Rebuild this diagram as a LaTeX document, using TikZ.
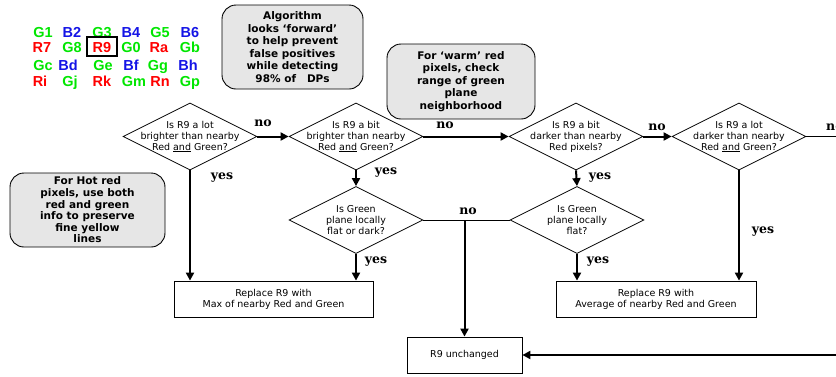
\documentclass[tikz,border=0pt]{standalone}
\usepackage{fontspec}
\setmainfont{DejaVu Sans}
\newfontfamily\gridfont{Liberation Sans}
\newfontfamily\lblfont{DejaVu Serif}
\usetikzlibrary{shapes.geometric,arrows.meta}
\definecolor{gG}{RGB}{0,230,0}
\definecolor{gB}{RGB}{20,20,230}
\definecolor{gR}{RGB}{255,0,0}
\definecolor{callfill}{RGB}{230,230,230}
\begin{document}
\begin{tikzpicture}[x=1pt,y=-1pt,
  grid/.style={font=\gridfont\bfseries\fontsize{14.5}{16}\selectfont, inner sep=0pt, anchor=base},
  callout/.style={draw, line width=0.9pt, fill=callfill, rounded corners=14pt, align=center, inner sep=0pt,
    font=\bfseries\fontsize{10.5}{12.6}\selectfont},
  dia/.style={draw, line width=0.8pt, shape=diamond, inner sep=0pt, minimum width=134pt, minimum height=67pt, shape aspect=2},
  dtext/.style={align=center, inner sep=0pt, font=\fontsize{9.5}{11}\selectfont},
  rbox/.style={draw, line width=0.8pt, align=center, inner sep=0pt, font=\fontsize{9.5}{11}\selectfont},
  lbl/.style={font=\lblfont\bfseries\fontsize{12.5}{14}\selectfont, inner sep=0pt},
  thk/.style={line width=2pt, -{Triangle[length=8pt,width=8pt]}},
  thn/.style={line width=0.8pt}
]
\useasboundingbox (0,0) rectangle (836,376);
\clip (0,0) rectangle (836,376);
% colour grid
\node[grid,text=gG] (g1) at (43,37) {G1};
\node[grid,text=gB] (b2) at (72,37) {B2};
\node[grid,text=gG] (g3) at (102,37) {G3};
\node[grid,text=gB] (b4) at (131,37) {B4};
\node[grid,text=gG] (g5) at (160,37) {G5};
\node[grid,text=gB] (b6) at (190,37) {B6};
\node[grid,text=gR] (r7) at (42,52.5) {R7};
\node[grid,text=gG] (g8) at (72,52.5) {G8};
\node[grid,text=gR] (r9) at (102,52.5) {R9};
\draw[line width=1.4pt] (87,37) rectangle (117,56);
\node[grid,text=gG] (g0) at (131,52.5) {G0};
\node[grid,text=gR] (ra) at (159,52.5) {Ra};
\node[grid,text=gG] (gb) at (190,52.5) {Gb};
\node[grid,text=gG] (gc) at (43,70) {Gc};
\node[grid,text=gB] (bd) at (68,70) {Bd};
\node[grid,text=gG] (ge) at (103,70) {Ge};
\node[grid,text=gB] (bf) at (131,70) {Bf};
\node[grid,text=gG] (gg) at (158,70) {Gg};
\node[grid,text=gB] (bh) at (188,70) {Bh};
\node[grid,text=gR] (ri) at (40,86) {Ri};
\node[grid,text=gG] (gj) at (70,86) {Gj};
\node[grid,text=gR] (rk) at (102,86) {Rk};
\node[grid,text=gG] (gm) at (134,86) {Gm};
\node[grid,text=gR] (rn) at (160,86) {Rn};
\node[grid,text=gG] (gp) at (190,86) {Gp};
% callouts
\node[callout,minimum width=141pt,minimum height=84pt] (c1) at (292.5,47) {Algorithm\\looks `forward'\\to help prevent\\false positives\\while detecting\\98\% of \ \ DPs};
\node[callout,minimum width=148pt,minimum height=75pt] (c2) at (461,81.5) {For `warm' red\\pixels, check\\range of green\\plane\\neighborhood};
\node[callout,minimum width=155pt,minimum height=74pt,font=\bfseries\fontsize{10.5}{11.6}\selectfont] (c3) at (87.5,210) {For Hot red\\pixels, use both\\red and green\\info to preserve\\fine yellow\\lines};
% diamonds
\node[dia] (d1) at (190,136.5) {};
\node[dtext] at (d1) {Is R9 a lot\\brighter than nearby\\Red \underline{and} Green?};
\node[dia] (d2) at (356,136.5) {};
\node[dtext] at (d2) {Is R9 a bit\\brighter than nearby\\Red \underline{and} Green?};
\node[dia] (d3) at (576,136.5) {};
\node[dtext] at (d3) {Is R9 a bit\\darker than nearby\\Red pixels?};
\node[dia] (d4) at (739,136.5) {};
\node[dtext] at (d4) {Is R9 a lot\\darker than nearby\\Red \underline{and} Green?};
\node[dia] (d5) at (356,220) {};
\node[dtext] at (d5) {Is Green\\plane locally\\flat or dark?};
\node[dia] (d6) at (577,220) {};
\node[dtext] at (d6) {Is Green\\plane locally\\flat?};
% boxes
\node[rbox,minimum width=199pt,minimum height=36pt] (b1) at (273.5,299) {Replace R9 with\\Max of nearby Red and Green};
\node[rbox,minimum width=200pt,minimum height=36pt] (b2box) at (656,299) {Replace R9 with\\Average of nearby Red and Green};
\node[rbox,minimum width=115pt,minimum height=36pt] (b3) at (464.5,355) {R9 unchanged};
% connectors
\coordinate (re) at (840,136.5);
\coordinate (rb) at (840,355);
\coordinate (j) at (464.5,220);
\draw[thk] (d1.east) -- (d2.west);
\draw[thk] (d2.east) -- (d3.west);
\draw[thk] (d3.east) -- (d4.west);
\draw[thn] (d4.east) -- (re);
\draw[thk] (d1.south) -- (d1.south |- b1.north);
\draw[thk] (d2.south) -- (d5.north);
\draw[thk] (d5.south) -- (d5.south |- b1.north);
\draw[thk] (d3.south) -- (d6.north);
\draw[thk] (d6.south) -- (d6.south |- b2box.north);
\draw[thk] (d4.south) -- (d4.south |- b2box.north);
\draw[thn] (d5.east) -- (d6.west);
\draw[thk] (j) -- (b3.north);
\draw[thk] (rb) -- (b3.east);
% labels
\node[lbl] at (263,123) {no};
\node[lbl] at (445,125) {no};
\node[lbl] at (657,127) {no};
\node[lbl,anchor=west] at (826,127) {no};
\node[lbl] at (468,211) {no};
\node[lbl] at (222,178) {yes};
\node[lbl] at (386,173) {yes};
\node[lbl] at (600,178) {yes};
\node[lbl] at (376,262) {yes};
\node[lbl] at (598,262) {yes};
\node[lbl] at (763,232) {yes};
\end{tikzpicture}
\end{document}
